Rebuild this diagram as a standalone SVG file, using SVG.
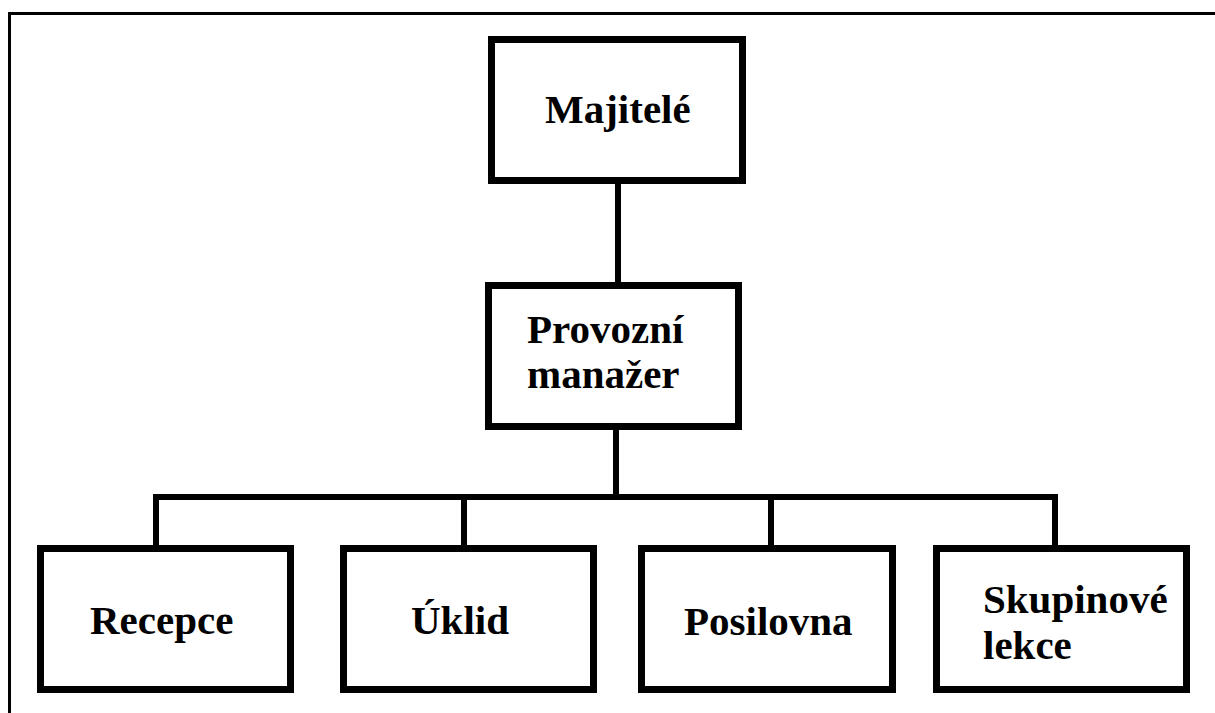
<svg xmlns="http://www.w3.org/2000/svg" width="1215" height="713" viewBox="0 0 1215 713">
  <style>
    .box { fill: #ffffff; stroke: #000000; stroke-width: 7; }
    .wire { fill: none; stroke: #000000; stroke-width: 6; stroke-linecap: square; }
    .frame { fill: none; stroke: #000000; stroke-width: 3; }
    .label { font-family: "Liberation Serif", "Times New Roman", serif; font-weight: bold; font-size: 41px; fill: #000000; }
  </style>
  <rect width="1215" height="713" fill="#ffffff"/>

  <!-- page frame (top and left edges only) -->
  <polyline class="frame" points="9.5,713 9.5,13.5 1215,13.5"/>

  <!-- connectors -->
  <g id="connectors">
    <line class="wire" x1="618" y1="184" x2="618" y2="282"/>
    <line class="wire" x1="616" y1="430" x2="616" y2="497"/>
    <line class="wire" x1="156" y1="497" x2="1055" y2="497"/>
    <line class="wire" x1="156" y1="497" x2="156" y2="545"/>
    <line class="wire" x1="464" y1="497" x2="464" y2="545"/>
    <line class="wire" x1="771" y1="497" x2="771" y2="545"/>
    <line class="wire" x1="1055" y1="497" x2="1055" y2="545"/>
  </g>

  <g id="majitele">
    <rect class="box" x="491.5" y="39.5" width="251" height="141"/>
    <text class="label" x="545" y="123">Majitelé</text>
  </g>

  <g id="provozni-manazer">
    <rect class="box" x="488.5" y="285.5" width="250" height="141"/>
    <text class="label" x="527" y="343">Provozní</text>
    <text class="label" x="527" y="388">manažer</text>
  </g>

  <g id="recepce">
    <rect class="box" x="40.5" y="548.5" width="250" height="141"/>
    <text class="label" x="90" y="634">Recepce</text>
  </g>

  <g id="uklid">
    <rect class="box" x="343.5" y="548.5" width="250" height="141"/>
    <text class="label" x="411" y="634">Úklid</text>
  </g>

  <g id="posilovna">
    <rect class="box" x="641.5" y="548.5" width="251" height="141"/>
    <text class="label" x="684" y="635">Posilovna</text>
  </g>

  <g id="skupinove-lekce">
    <rect class="box" x="936.5" y="548.5" width="250" height="141"/>
    <text class="label" x="983" y="613">Skupinové</text>
    <text class="label" x="983" y="659">lekce</text>
  </g>
</svg>
